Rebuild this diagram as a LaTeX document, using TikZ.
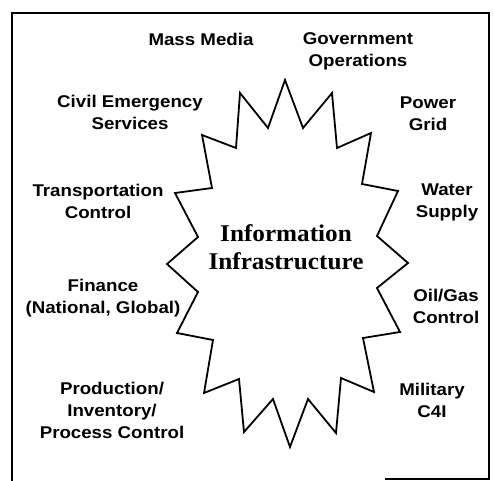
\documentclass[tikz,border=0pt]{standalone}
\usepackage{fontspec}
\newfontfamily\labfont{Liberation Sans Bold}[FakeStretch=1.1]
\newfontfamily\ctrfont{Liberation Serif Bold}[FakeStretch=1.05]
\begin{document}
\begin{tikzpicture}[x=1pt,y=-1pt,
  lab/.style={anchor=north,align=center,inner sep=0pt,font=\labfont\fontsize{17}{22}\selectfont},
  ctr/.style={anchor=north,align=center,inner sep=0pt,font=\ctrfont\fontsize{24}{28}\selectfont},
  frame/.style={line width=1.6pt},
  star/.style={line width=1.8pt,line join=miter}]
\useasboundingbox (0,0) rectangle (493,481);
% frame
\draw[frame] (12,481) -- (12,13) -- (489,13) -- (489,479) -- (385,479);
% star
\draw[star] (285,80) -- (303,128) -- (332,93) -- (337,148) -- (371,133) -- (362,184)
  -- (398,191) -- (377,236) -- (408,263) -- (377,288) -- (400,332) -- (363,338)
  -- (374,392) -- (341,378) -- (336,433) -- (308,399) -- (290,447) -- (273,399)
  -- (244,432) -- (239,379) -- (204,393) -- (213,340) -- (177,333) -- (198,292)
  -- (167,264) -- (198,237) -- (175,193) -- (212,188) -- (202,135) -- (236,148)
  -- (240,93) -- (268,128) -- cycle;
\node[ctr] (info) at (286,224) {Information\\Infrastructure};
\node[lab] (mass) at (201,32.6) {Mass Media};
\node[lab] (gov) at (358,32.6) {Government\\Operations};
\node[lab] (civil) at (130,94.6) {Civil Emergency\\Services};
\node[lab] (power) at (428,96.6) {Power\\Grid};
\node[lab] (transp) at (98,183.6) {Transportation\\Control};
\node[lab] (water) at (447,183.6) {Water\\Supply};
\node[lab] (fin) at (103,278.6) {Finance\\(National, Global)};
\node[lab] (oil) at (446,288.6) {Oil/Gas\\Control};
\node[lab] (prod) at (112,382) {Production/\\Inventory/\\Process Control};
\node[lab] (mil) at (432,382.6) {Military\\C4I};
\end{tikzpicture}
\end{document}
